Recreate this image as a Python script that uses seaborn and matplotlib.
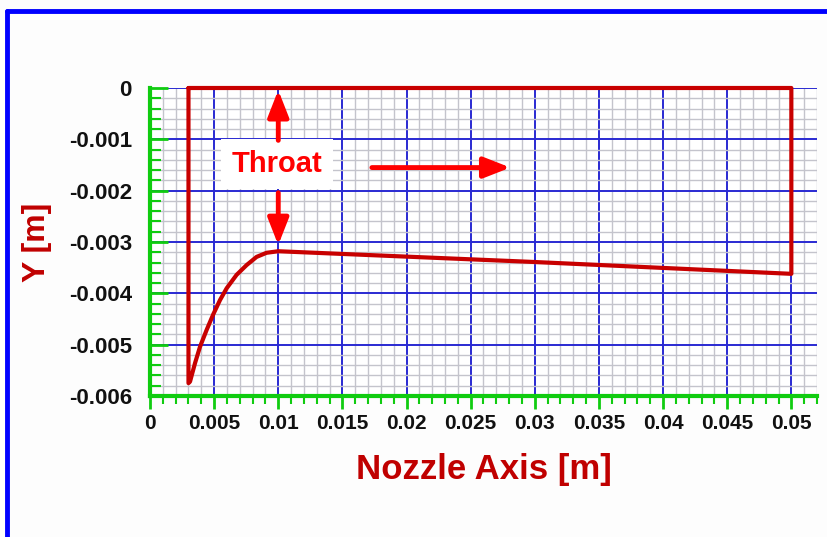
import matplotlib
matplotlib.use("Agg")
import matplotlib.pyplot as plt
from matplotlib.lines import Line2D
from matplotlib.ticker import MultipleLocator, FixedLocator, FixedFormatter
import seaborn as sns
import pandas as pd

# ---- data ----
nozzle_x = [0.003, 0.003, 0.00312, 0.00351, 0.0039, 0.00442, 0.00493, 0.00546, 0.00598,
            0.00675, 0.00753, 0.00831, 0.00909, 0.010, 0.030, 0.050, 0.050, 0.003]
nozzle_y = [0.0, -0.00575, -0.00572, -0.00536, -0.00504, -0.00471, -0.00441, -0.00413,
            -0.0039, -0.00364, -0.00345, -0.00329, -0.00321, -0.00318, -0.00339, -0.00362,
            0.0, 0.0]

x_ticks = [0, 0.005, 0.01, 0.015, 0.02, 0.025, 0.03, 0.035, 0.04, 0.045, 0.05]
x_ticklabels = ["0", "0.005", "0.01", "0.015", "0.02", "0.025", "0.03", "0.035",
                "0.04", "0.045", "0.05"]
y_ticks = [0, -0.001, -0.002, -0.003, -0.004, -0.005, -0.006]
y_ticklabels = ["0", "-0.001", "-0.002", "-0.003", "-0.004", "-0.005", "-0.006"]

throat_label = "Throat"
throat_x = 0.01
x_label = "Nozzle Axis [m]"
y_label = "Y [m]"

df = pd.DataFrame({"x": nozzle_x, "y": nozzle_y})

sns.set_theme(style="white")
plt.rcParams["font.family"] = ["Liberation Sans", "DejaVu Sans"]

fig = plt.figure(figsize=(8.27, 5.37), dpi=100, facecolor="#fdfdfd")
ax = fig.add_axes([150 / 827, 1 - 396 / 537, 667 / 827, 308 / 537])
ax.set_facecolor("white")

line_red = "#c80000"
sns.lineplot(data=df, x="x", y="y", sort=False, estimator=None, ax=ax,
             color=line_red, linewidth=3, zorder=5, clip_on=False,
             solid_joinstyle="round")

ax.set_xlim(0, 0.052)
ax.set_ylim(-0.006, 0)

ax.xaxis.set_major_locator(FixedLocator(x_ticks))
ax.xaxis.set_major_formatter(FixedFormatter(x_ticklabels))
ax.yaxis.set_major_locator(FixedLocator(y_ticks))
ax.yaxis.set_major_formatter(FixedFormatter(y_ticklabels))
ax.xaxis.set_minor_locator(MultipleLocator(0.001))
ax.yaxis.set_minor_locator(MultipleLocator(0.0002))

ax.grid(which="minor", color="#c4c4cc", linewidth=1.0, zorder=0)
ax.grid(which="major", color="#2a2ad2", linewidth=1.4, zorder=1)
ax.set_axisbelow(True)

green = "#10cc10"
for s in ["top", "right"]:
    ax.spines[s].set_visible(False)
for s in ["left", "bottom"]:
    ax.spines[s].set_visible(True)
    ax.spines[s].set_color(green)
    ax.spines[s].set_linewidth(3)
    ax.spines[s].set_zorder(6)

ax.tick_params(axis="x", which="major", direction="out", length=9, width=2,
               color=green, pad=4, labelsize=15, labelcolor="#111111")
ax.tick_params(axis="x", which="minor", direction="out", length=6, width=1.5,
               color=green)
ax.tick_params(axis="y", which="major", direction="in", length=13, width=2,
               color=green, pad=13, labelsize=16, labelcolor="#111111")
ax.tick_params(axis="y", which="minor", direction="in", length=8, width=1.5,
               color=green)
ax.tick_params(left=True, bottom=True, which="both")
for lab in ax.get_xticklabels() + ax.get_yticklabels():
    lab.set_fontweight("bold")

ax.set_xlabel(x_label, fontsize=25, fontweight="bold", color="#c00000", labelpad=14)
ax.set_ylabel(y_label, fontsize=23, fontweight="bold", color="#c00000", labelpad=12)

# annotations
red = "#ff0000"
ax.text(throat_x - 0.0001, -0.00148, throat_label, fontsize=21, fontweight="bold",
        color=red, ha="center", va="center", zorder=8,
        bbox=dict(boxstyle="square,pad=0.38", facecolor="white", edgecolor="none"))
arrow_props = dict(arrowstyle="-|>,head_length=1.15,head_width=0.45", color=red,
                   lw=3.5, shrinkA=0, shrinkB=0, mutation_scale=14)
ax.annotate("", xy=(throat_x, -0.00004), xytext=(throat_x, -0.00102),
            arrowprops=arrow_props, zorder=9, annotation_clip=False)
ax.annotate("", xy=(throat_x, -0.00306), xytext=(throat_x, -0.00204),
            arrowprops=arrow_props, zorder=9)
ax.annotate("", xy=(0.0281, -0.00155), xytext=(0.0173, -0.00155),
            arrowprops=arrow_props, zorder=9)

# blue frame (top and left edges)
fig.add_artist(Line2D([7 / 827, 7 / 827], [0, 1 - 11 / 537], transform=fig.transFigure,
                      color="#0000ff", linewidth=3.5))
fig.add_artist(Line2D([7 / 827, 1], [1 - 11 / 537, 1 - 11 / 537], transform=fig.transFigure,
                      color="#0000ff", linewidth=3.5))

fig.savefig("out.png", dpi=100, facecolor=fig.get_facecolor())
